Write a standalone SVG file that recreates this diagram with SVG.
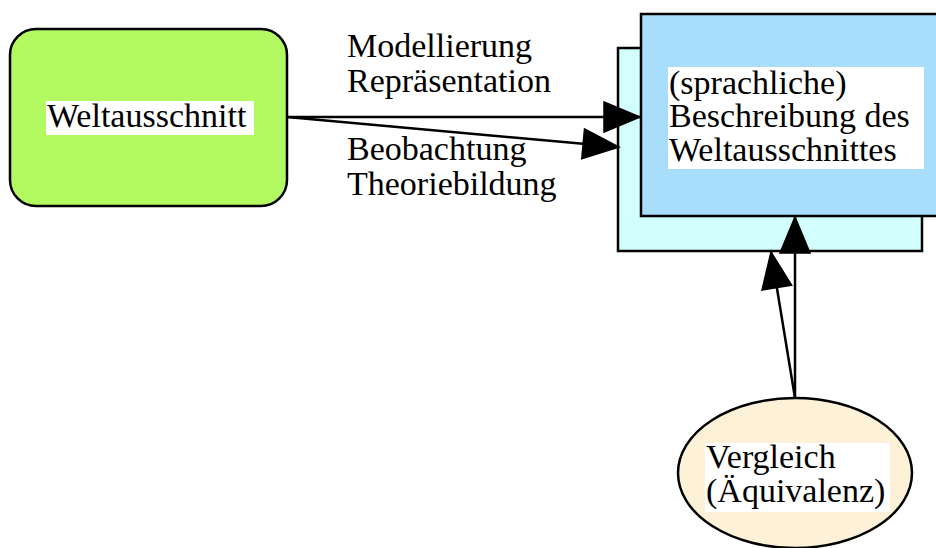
<svg xmlns="http://www.w3.org/2000/svg" width="936" height="548" viewBox="0 0 936 548">
<style>
.t{font-family:"Liberation Serif","Times New Roman",serif;font-size:34px;fill:#000}
.bg{fill:#fff}
.n{stroke:#000;stroke-width:2.5}
.c{stroke:#000;stroke-width:2.5;fill:none}
</style>
<defs>
<marker id="ah" markerUnits="userSpaceOnUse" markerWidth="40" markerHeight="34" refX="36" refY="15" orient="auto" viewBox="-2 -2 40 34">
<path d="M0,0 L36,15 L0,30 z" fill="#000" stroke="#000" stroke-width="1.5"/>
</marker>
</defs>
<rect width="936" height="548" fill="#fff"/>
<g id="weltausschnitt">
<rect class="n" x="10" y="29" width="277" height="177" rx="26" ry="26" fill="#b2f962"/>
<rect class="bg" x="46" y="101" width="208" height="34"/>
<text class="t" x="47" y="127">Weltausschnitt</text>
</g>
<g id="beschreibung">
<rect class="n" x="618" y="48" width="304" height="203" fill="#d2fefe"/>
<rect class="n" x="641" y="14" width="320" height="202" fill="#a8defc"/>
<rect class="bg" x="668" y="67" width="256" height="102"/>
<text class="t" x="669" y="94">(sprachliche)</text>
<text class="t" x="669" y="127">Beschreibung des</text>
<text class="t" x="669" y="161">Weltausschnittes</text>
</g>
<g id="vergleich">
<ellipse class="n" cx="795" cy="473" rx="117" ry="75" fill="#fdf1d8"/>
<rect class="bg" x="705" y="443" width="185" height="69"/>
<text class="t" x="706" y="468">Vergleich</text>
<text class="t" x="706" y="502">(Äquivalenz)</text>
</g>
<g id="connectors">
<line class="c" x1="287" y1="117" x2="640" y2="117" marker-end="url(#ah)"/>
<line class="c" x1="287" y1="117" x2="619" y2="147" marker-end="url(#ah)"/>
<line class="c" x1="795" y1="398" x2="795" y2="217" marker-end="url(#ah)"/>
<line class="c" x1="795" y1="398" x2="771" y2="252" marker-end="url(#ah)"/>
<text class="t" x="347" y="57">Modellierung</text>
<text class="t" x="347" y="92">Repräsentation</text>
<text class="t" x="347" y="160">Beobachtung</text>
<text class="t" x="347" y="195">Theoriebildung</text>
</g>
</svg>
